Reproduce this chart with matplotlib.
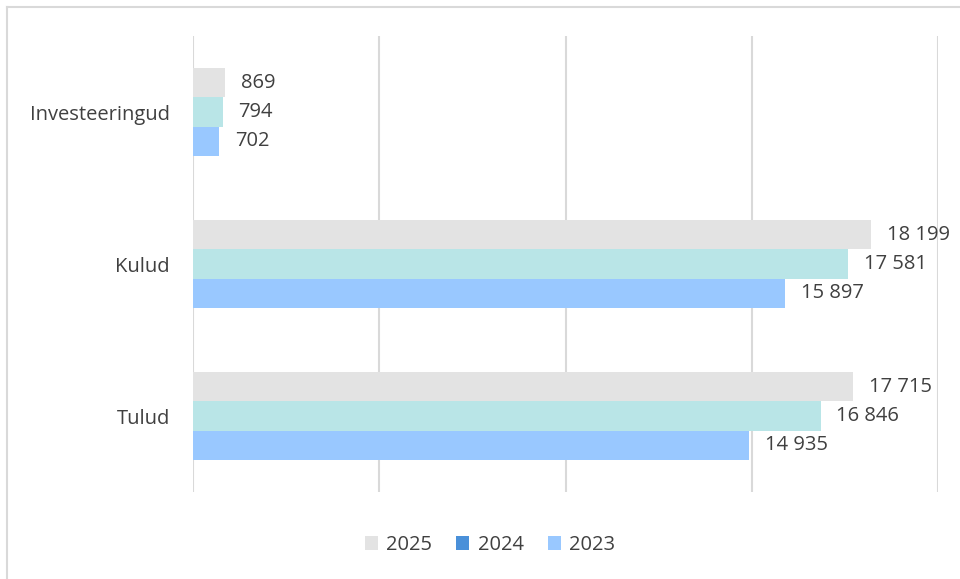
import matplotlib
matplotlib.use("Agg")
import matplotlib.pyplot as plt
from matplotlib.lines import Line2D
from matplotlib.patches import Patch

categories = ["Investeeringud", "Kulud", "Tulud"]
series_names = ["2025", "2024", "2023"]
values_2025 = [869, 18199, 17715]
values_2024 = [794, 17581, 16846]
values_2023 = [702, 15897, 14935]

bar_colors = ["#e3e3e3", "#b9e5e7", "#99c8ff"]
legend_colors = ["#e3e3e3", "#4a90d9", "#99c8ff"]
text_color = "#404040"
grid_color = "#d9d9d9"

plt.rcParams["font.family"] = ["Open Sans", "DejaVu Sans"]
fs = 14.5

fig = plt.figure(figsize=(9.6, 5.79), dpi=100)
ax = fig.add_axes([193/960, 1-492/579, (938-193)/960, (492-36)/579])

h = 0.194
ys = list(range(len(categories)))
all_vals = [values_2025, values_2024, values_2023]
offsets = [-h, 0, h]
for vals, col, off in zip(all_vals, bar_colors, offsets):
    pos = [y + off for y in ys]
    ax.barh(pos, vals, height=h, color=col, zorder=3)
    for p, v in zip(pos, vals):
        ax.annotate(f"{v:,}".replace(",", " "), xy=(v, p), xytext=(11.5, 0),
                    textcoords="offset points", ha="left", va="center",
                    fontsize=fs, color=text_color)

ax.set_xlim(0, 20000)
ax.set_ylim(2.5, -0.5)
ax.set_xticks([0, 5000, 10000, 15000, 20000])
ax.xaxis.grid(True, color=grid_color, linewidth=1.5, zorder=0)
ax.tick_params(axis="x", bottom=False, labelbottom=False)
ax.set_yticks(ys)
ax.set_yticklabels(categories, fontsize=fs, color=text_color)
ax.tick_params(axis="y", left=False, length=0, pad=16.5)
for s in ax.spines.values():
    s.set_visible(False)

handles = [Patch(facecolor=c, edgecolor="none") for c in legend_colors]
fig.legend(handles, series_names, loc="center", bbox_to_anchor=(490/960, 1-545/579),
           ncol=3, frameon=False, fontsize=fs, labelcolor=text_color,
           handlelength=0.65, handleheight=0.65, handletextpad=0.4, columnspacing=1.2)

fig.add_artist(Line2D([7/960, 7/960], [0, 1-7/579], color=grid_color, linewidth=1.5,
                      transform=fig.transFigure))
fig.add_artist(Line2D([7/960, 1], [1-7/579, 1-7/579], color=grid_color, linewidth=1.5,
                      transform=fig.transFigure))

fig.savefig("out.png", dpi=100)
